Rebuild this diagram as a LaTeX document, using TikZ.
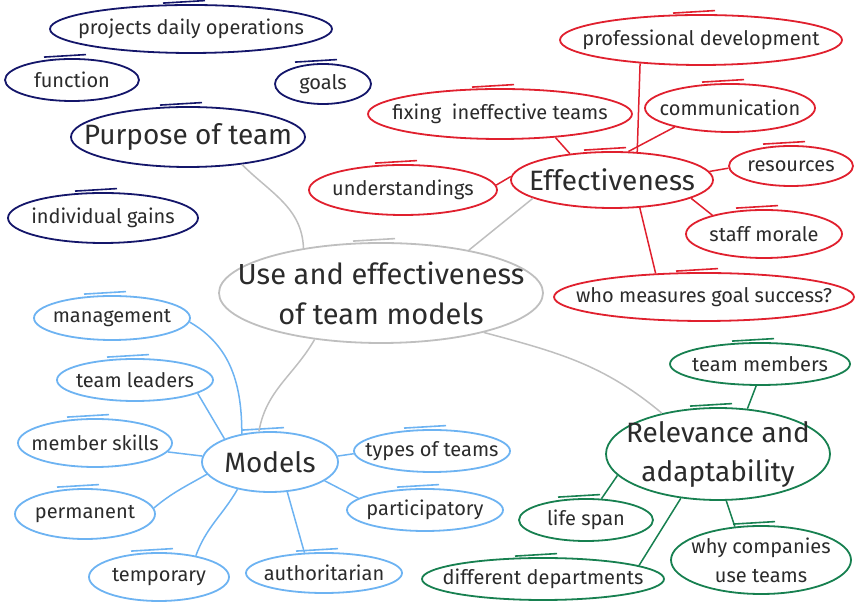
\documentclass[tikz,border=0pt]{standalone}
\usepackage{fontspec}
\setmainfont{Fira Sans}
\usetikzlibrary{shapes.geometric}
\definecolor{navyc}{HTML}{14166A}
\definecolor{redc}{HTML}{E0202E}
\definecolor{bluec}{HTML}{6DB3F2}
\definecolor{greenc}{HTML}{178050}
\definecolor{grayc}{HTML}{BFBFBF}
\definecolor{txt}{HTML}{2B2B2B}
\tikzset{
  bub/.style n args={3}{ellipse, draw=#1, line width=1.8pt, inner sep=0pt,
     minimum width=#2*2pt, minimum height=#3*2pt},
  smt/.style={text=txt, align=center, inner sep=0pt, font=\fontsize{20}{29}\selectfont},
  bigt/.style={text=txt, align=center, inner sep=0pt, font=\fontsize{28}{39}\selectfont},
  cent/.style={text=txt, align=center, inner sep=0pt, font=\fontsize{29}{40}\selectfont},
  link/.style={line width=1.5pt},
}
\begin{document}
\begin{tikzpicture}[x=1pt,y=1pt]
\useasboundingbox (0,0) rectangle (864,612);
% central
\node[bub={grayc}{162}{50}, label={[cent]center:{Use and effectiveness\\of team models}}] (c) at (381,319) {};
% purpose (navy)
\node[bub={navyc}{117}{30}, label={[bigt]center:{Purpose of team}}] (pur) at (188,475) {};
\node[bub={navyc}{141}{24}, label={[smt]center:{projects daily operations}}] (pdo) at (191,583) {};
\node[bub={navyc}{67}{21}, label={[smt]center:{function}}] (fun) at (72,532) {};
\node[bub={navyc}{48}{20}, label={[smt]center:{goals}}] (goals) at (323,528) {};
\node[bub={navyc}{95}{25}, label={[smt]center:{individual gains}}] (ig) at (103,394) {};
% effectiveness (red)
\node[bub={redc}{101}{28}, label={[bigt]center:{Effectiveness}}] (eff) at (612,432) {};
\node[bub={redc}{141}{25}, label={[smt]center:{professional development}}] (prof) at (701,572) {};
\node[bub={redc}{132}{25}, label={[smt]center:{fixing\ \ ineffective teams}}] (fix) at (500,498) {};
\node[bub={redc}{85}{24}, label={[smt]center:{communication}}] (comm) at (730,504) {};
\node[bub={redc}{94}{25}, label={[smt]center:{understandings}}] (und) at (403,422) {};
\node[bub={redc}{62}{20}, label={[smt]center:{resources}}] (res) at (791,446) {};
\node[bub={redc}{78}{24}, label={[smt]center:{staff morale}}] (staff) at (764,378) {};
\node[bub={redc}{150}{24}, label={[smt]center:{who measures goal success?}}] (who) at (704,315) {};
% models (blue)
\node[bub={bluec}{68}{30}, label={[bigt]center:{Models}}] (mod) at (270,150) {};
\node[bub={bluec}{78}{22}, label={[smt]center:{management}}] (mgmt) at (112,294) {};
\node[bub={bluec}{78}{21}, label={[smt]center:{team leaders}}] (tl) at (135,232) {};
\node[bub={bluec}{77}{24}, label={[smt]center:{member skills}}] (ms) at (95,169) {};
\node[bub={bluec}{70}{25}, label={[smt]center:{permanent}}] (perm) at (85,98) {};
\node[bub={bluec}{70}{24}, label={[smt]center:{temporary}}] (temp) at (159,35) {};
\node[bub={bluec}{78}{20}, label={[smt]center:{authoritarian}}] (auth) at (324,39) {};
\node[bub={bluec}{78}{21}, label={[smt]center:{types of teams}}] (types) at (432,161) {};
\node[bub={bluec}{78}{21}, label={[smt]center:{participatory}}] (part) at (425,102) {};
% relevance (green)
\node[bub={greenc}{112}{46}, label={[bigt]center:{Relevance and\\adaptability}}] (rel) at (718,158) {};
\node[bub={greenc}{90}{21}, label={[smt]center:{team members}}] (tm) at (760,248) {};
\node[bub={greenc}{67}{21}, label={[smt]center:{life span}}] (ls) at (586,92) {};
\node[bub={greenc}{121}{21}, label={[smt]center:{different departments}}] (dd) at (543,33) {};
\node[bub={greenc}{90}{34}, label={[smt]center:{why companies\\use teams}}] (why) at (761,52) {};
% accents
\foreach \n/\col in {c/grayc,pur/navyc,pdo/navyc,fun/navyc,goals/navyc,ig/navyc,
  eff/redc,prof/redc,fix/redc,comm/redc,und/redc,res/redc,staff/redc,who/redc,
  mod/bluec,mgmt/bluec,tl/bluec,ms/bluec,perm/bluec,temp/bluec,auth/bluec,types/bluec,part/bluec,
  rel/greenc,tm/greenc,ls/greenc,dd/greenc,why/greenc}
  \draw[\col, line width=1.6pt] ([xshift=-28pt,yshift=1pt]\n.north) -- ([xshift=14pt,yshift=3.5pt]\n.north);
% main links
\draw[grayc, link] (c.150) to[out=92, in=-45] (pur.-27);
\draw[grayc, link] (c.26) -- (eff.193);
\draw[grayc, link] (c.215) to[out=-120, in=80] (mod.110);
\draw[grayc, link] (c.-21) to[out=-15, in=140] (rel.144);
% effectiveness links
\draw[redc, link] (eff.48) -- (prof.201);
\draw[redc, link] (eff.148) -- (fix.-23);
\draw[redc, link] (eff.60) -- (comm.199);
\draw[redc, link] (eff.5) -- (res.182);
\draw[redc, link] (eff.-13) -- (staff.160);
\draw[redc, link] (eff.-45) -- (who.154);
\draw[redc, link] (eff.178) -- (und.3);
% models links
\draw[bluec, link] (mgmt.-3) to[out=-30, in=90] (mod.135);
\draw[bluec, link] (tl.-12) -- (mod.153);
\draw[bluec, link] (ms.-7) -- (mod.175);
\draw[bluec, link] (perm.5) to[out=40, in=-150] (mod.191);
\draw[bluec, link] (temp.30) to[out=70, in=-120] (mod.220);
\draw[bluec, link] (auth.134) -- (mod.-60);
\draw[bluec, link] (types.182) -- (mod.5);
\draw[bluec, link] (part.170) -- (mod.-19);
% relevance links
\draw[greenc, link] (tm.-100) -- (rel.57);
\draw[greenc, link] (ls.54) -- (rel.192);
\draw[greenc, link] (dd.8) -- (rel.230);
\draw[greenc, link] (why.128) -- (rel.-80);
\end{tikzpicture}
\end{document}
